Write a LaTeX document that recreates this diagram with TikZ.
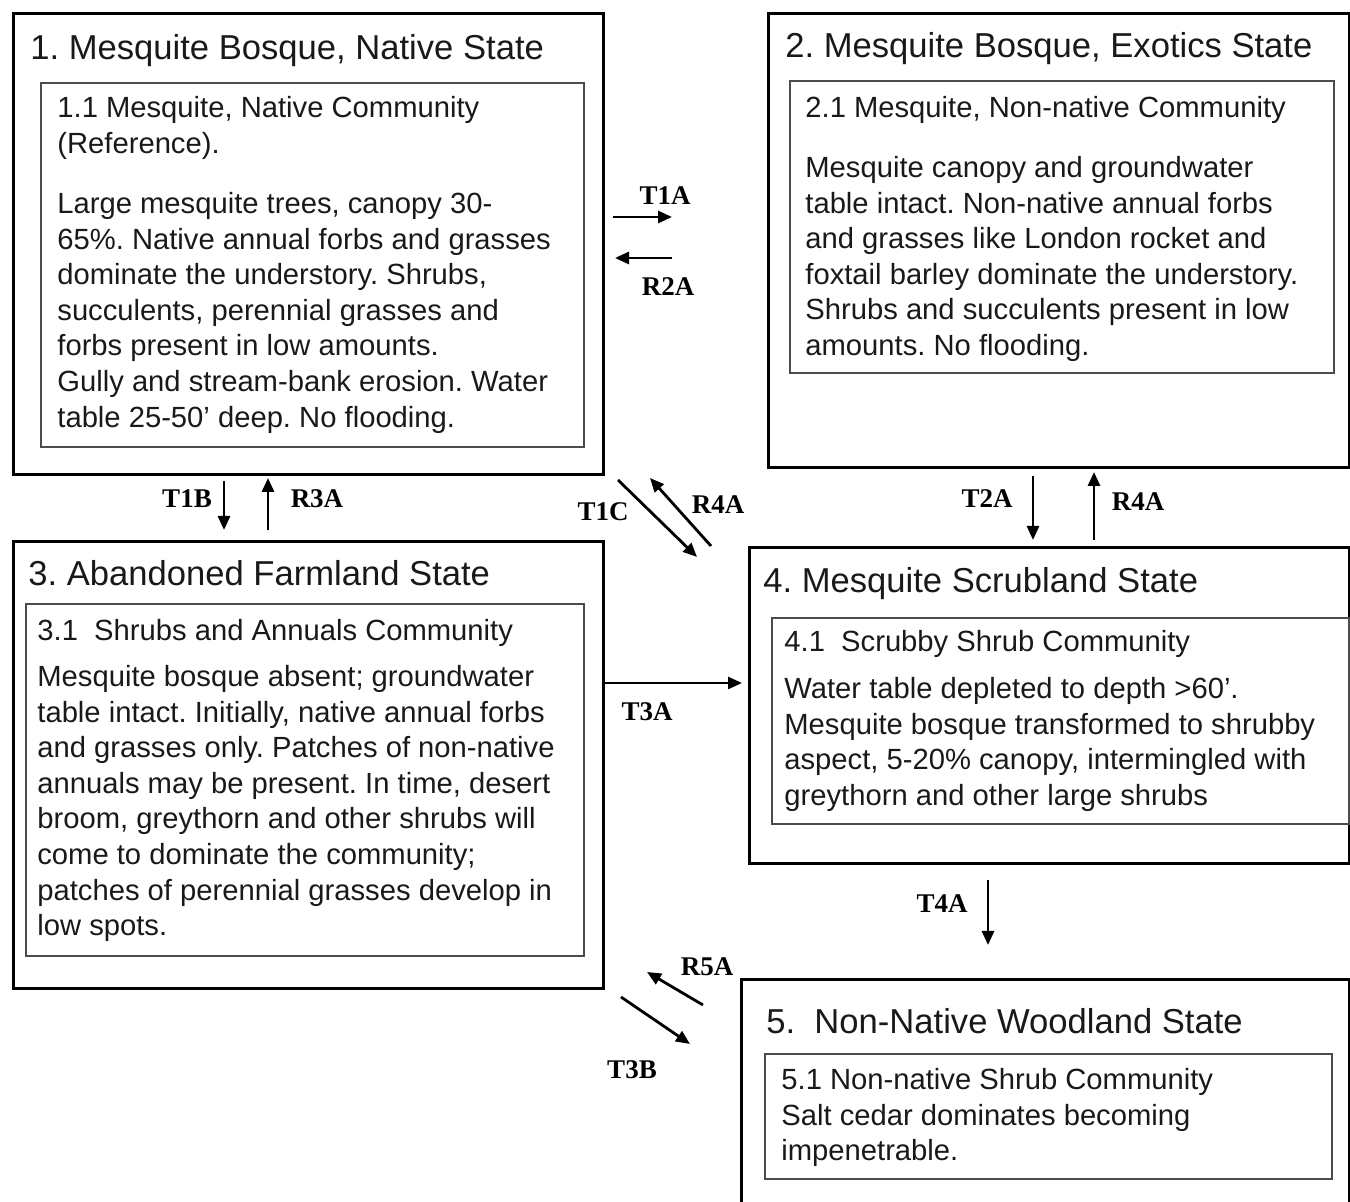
\documentclass[tikz,border=0pt]{standalone}
\usepackage{fontspec}
\setmainfont{Liberation Sans}
\newfontfamily\lblfont{Liberation Serif}
\usetikzlibrary{arrows.meta, positioning}
\frenchspacing
\tikzset{%
	statebox/.style={
		draw,
		line width=1.7pt,
		anchor=north west,
		inner sep=0pt
	},
	commbox/.style={
		draw=black!70,
		line width=1pt,
		anchor=north west,
		inner sep=0pt
	},
	statetitle/.style={
		anchor=base west,
		inner sep=0pt,
		text=black!90,
		font=\fontsize{17.3}{20}\selectfont
	},
	bodytext/.style={
		anchor=north west,
		inner sep=0pt,
		align=left,
		text=black!90,
		font=\fontsize{14.6}{17.8}\selectfont
	},
	trans/.style={
		-{Triangle[length=7pt,width=6pt]},
		line width=1.4pt
	},
	translabel/.style={
		inner sep=0pt,
		font=\lblfont\bfseries\fontsize{13.5}{15}\selectfont
	},
}
\begin{document}
\begin{tikzpicture}[x=0.5pt,y=-0.5pt]
	\useasboundingbox (0,0) rectangle (1350,1202);
	
	% State boxes
	\node[statebox, minimum width=295pt, minimum height=230.5pt] (s1) at (12,12) {};
	\node[statebox, minimum width=290.5pt, minimum height=227pt] (s2) at (767,12) {};
	\node[statebox, minimum width=295pt, minimum height=223.5pt] (s3) at (12,540) {};
	\node[statebox, minimum width=300pt, minimum height=158pt] (s4) at (748,546) {};
	\node[statebox, minimum width=304pt, minimum height=122pt] (s5) at (740,978) {};
	
	% Community boxes
	\node[commbox, minimum width=271.5pt, minimum height=182pt] (c1) at (40,82) {};
	\node[commbox, minimum width=272pt, minimum height=146pt] (c2) at (789,80) {};
	\node[commbox, minimum width=279pt, minimum height=176pt] (c3) at (25,603) {};
	\node[commbox, minimum width=288.5pt, minimum height=103pt] (c4) at (771,617) {};
	\node[commbox, minimum width=283.5pt, minimum height=62.5pt] (c5) at (764,1053) {};
	
	% State titles
	\node[statetitle] (s1title) at (30,60) {1. Mesquite Bosque, Native State};
	\node[statetitle] (s2title) at (785,58) {2. Mesquite Bosque, Exotics State};
	\node[statetitle] (s3title) at (28,586) {3. Abandoned Farmland State};
	\node[statetitle] (s4title) at (763,593) {4. Mesquite Scrubland State};
	\node[statetitle] (s5title) at (766,1033) {5.\ \ Non-Native Woodland State};
	
	% Community texts
	\node[bodytext] (c1head) at (57,96) {1.1 Mesquite, Native Community\\(Reference).};
	\node[bodytext] (c1text) at (57,192) {Large mesquite trees, canopy 30-\\
		65\%. Native annual forbs and grasses\\
		dominate the understory. Shrubs,\\
		succulents, perennial grasses and\\
		forbs present in low amounts.\\
		Gully and stream-bank erosion. Water\\
		table 25-50’ deep. No flooding.};
	
	\node[bodytext] (c2head) at (805,96) {2.1 Mesquite, Non-native Community};
	\node[bodytext] (c2text) at (805,156) {Mesquite canopy and groundwater\\
		table intact. Non-native annual forbs\\
		and grasses like London rocket and\\
		foxtail barley dominate the understory.\\
		Shrubs and succulents present in low\\
		amounts. No flooding.};
	
	\node[bodytext] (c3head) at (37,619) {3.1\ \ Shrubs and Annuals Community};
	\node[bodytext] (c3text) at (37,665) {Mesquite bosque absent; groundwater\\
		table intact. Initially, native annual forbs\\
		and grasses only. Patches of non-native\\
		annuals may be present. In time, desert\\
		broom, greythorn and other shrubs will\\
		come to dominate the community;\\
		patches of perennial grasses develop in\\
		low spots.};
	
	\node[bodytext] (c4head) at (784,630) {4.1\ \ Scrubby Shrub Community};
	\node[bodytext] (c4text) at (784,677) {Water table depleted to depth >60’.\\
		Mesquite bosque transformed to shrubby\\
		aspect, 5-20\% canopy, intermingled with\\
		greythorn and other large shrubs};
	
	\node[bodytext] (c5text) at (781,1068) {5.1 Non-native Shrub Community\\
		Salt cedar dominates becoming\\
		impenetrable.};
	
	% Transition end points
	\coordinate (t1a-a) at (613,217);  \coordinate (t1a-b) at (672,217);
	\coordinate (r2a-a) at (672,258);  \coordinate (r2a-b) at (615,258);
	\coordinate (t1b-a) at (224,481);  \coordinate (t1b-b) at (224,530);
	\coordinate (r3a-a) at (268,530);  \coordinate (r3a-b) at (268,478);
	\coordinate (t1c-a) at (618,480);  \coordinate (t1c-b) at (697,557);
	\coordinate (r4a-a) at (711,546);  \coordinate (r4a-b) at (650,478);
	\coordinate (t2a-a) at (1033,476); \coordinate (t2a-b) at (1033,540);
	\coordinate (r4b-a) at (1094,540); \coordinate (r4b-b) at (1094,472);
	\coordinate (t3a-a) at (605,683);  \coordinate (t3a-b) at (742,683);
	\coordinate (t4a-a) at (988,880);  \coordinate (t4a-b) at (988,945);
	\coordinate (r5a-a) at (703,1005); \coordinate (r5a-b) at (647,972);
	\coordinate (t3b-a) at (621,997);  \coordinate (t3b-b) at (690,1044);
	
	% Transitions
	\draw[trans] (t1a-a) -- (t1a-b);
	\draw[trans] (r2a-a) -- (r2a-b);
	\draw[trans] (t1b-a) -- (t1b-b);
	\draw[trans] (r3a-a) -- (r3a-b);
	\draw[trans] (t1c-a) -- (t1c-b);
	\draw[trans] (r4a-a) -- (r4a-b);
	\draw[trans] (t2a-a) -- (t2a-b);
	\draw[trans] (r4b-a) -- (r4b-b);
	\draw[trans] (t3a-a) -- (t3a-b);
	\draw[trans] (t4a-a) -- (t4a-b);
	\draw[trans] (r5a-a) -- (r5a-b);
	\draw[trans] (t3b-a) -- (t3b-b);
	
	% Transition labels
	\node[translabel] (l-t1a) at (665,196) {T1A};
	\node[translabel] (l-r2a) at (668,287) {R2A};
	\node[translabel] (l-t1b) at (187,499) {T1B};
	\node[translabel] (l-r3a) at (317,499) {R3A};
	\node[translabel] (l-t1c) at (603,512) {T1C};
	\node[translabel] (l-r4a) at (718,505) {R4A};
	\node[translabel] (l-t2a) at (987,499) {T2A};
	\node[translabel] (l-r4b) at (1138,502) {R4A};
	\node[translabel] (l-t3a) at (647,712) {T3A};
	\node[translabel] (l-t4a) at (942,904) {T4A};
	\node[translabel] (l-r5a) at (707,967) {R5A};
	\node[translabel] (l-t3b) at (632,1070) {T3B};
\end{tikzpicture}
\end{document}
